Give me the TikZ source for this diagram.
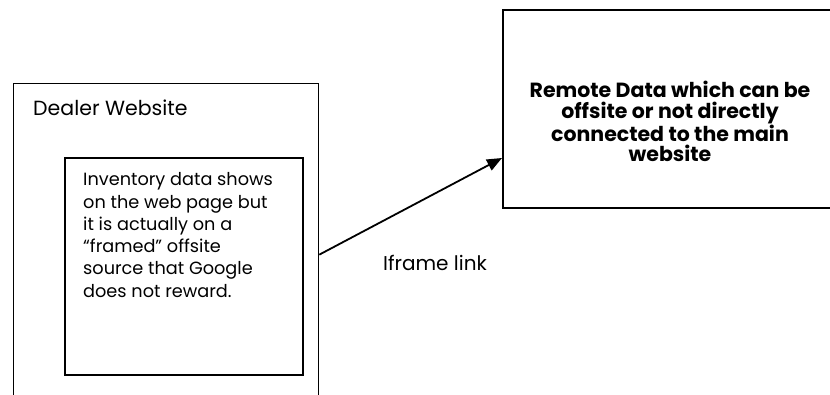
\documentclass[tikz,border=0pt]{standalone}
\usepackage{fontspec}
\setmainfont{Poppins}
\usetikzlibrary{arrows.meta}

\tikzset{
  box/.style={draw, line width=1.8pt, inner sep=0pt, anchor=north west},
  plain/.style={inner sep=0pt, font=\fontsize{17.7}{22.3}\selectfont},
  link/.style={line width=1.8pt, -{Triangle[length=15pt,width=12pt]}}
}

\begin{document}
\begin{tikzpicture}[x=1pt,y=-1pt]
  \useasboundingbox (0,0) rectangle (830,394);
  % outer page, cut off at the bottom
  \node[box, line width=1.3pt, minimum width=305pt, minimum height=342pt] (dealer) at (13,83) {};
  \node[plain, anchor=base west, font=\fontsize{20.5}{24}\selectfont] (dealertxt) at (33,115) {Dealer Website};
  % framed part
  \node[box, minimum width=238pt, minimum height=217pt] (frame) at (64,157) {};
  \node[plain, anchor=north west, align=left] (frametxt) at (83,172.4) {Inventory data shows\\on the web page but\\it is actually on a\\“framed” offsite\\source that Google\\does not reward.};
  % remote side, cut off on the right
  \node[box, minimum width=340pt, minimum height=198pt] (remote) at (502,9) {};
  \node[plain, anchor=north, align=center, font=\bfseries\fontsize{20.5}{20.7}\selectfont] (remotetxt) at (670,81) {Remote Data which can be\\offsite or not directly\\connected to the main\\website};
  \coordinate (tip) at (remote.west |- 0,158);
  \draw[link] (dealer.east) -- (tip);
  \node[plain, anchor=base, font=\fontsize{20}{24}\selectfont] (linktxt) at (435,270) {Iframe link};
\end{tikzpicture}
\end{document}
